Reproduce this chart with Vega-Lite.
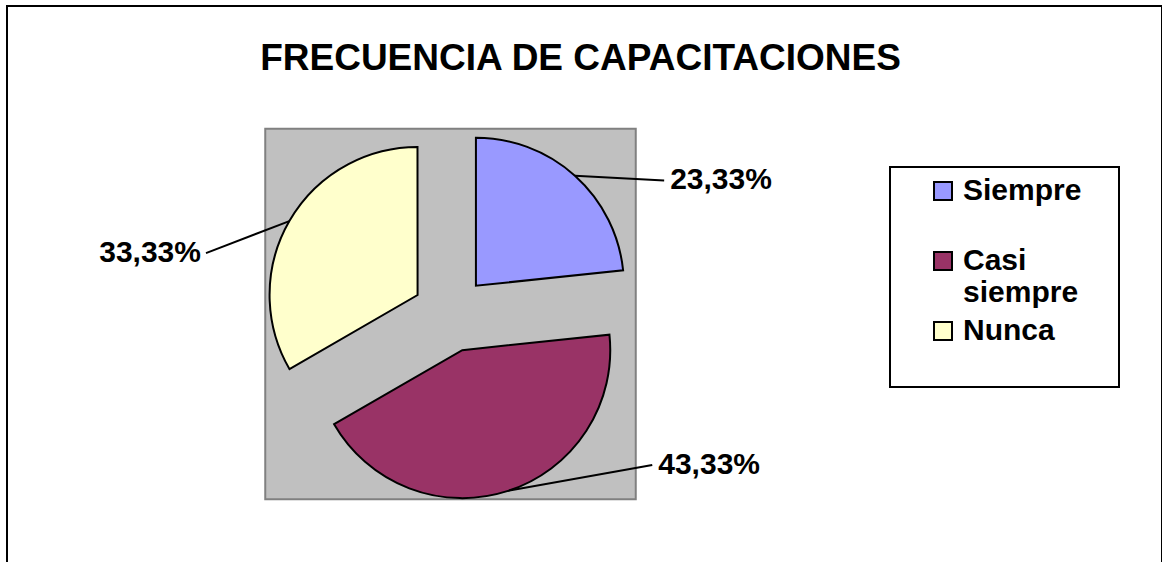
{
  "$schema": "https://vega.github.io/schema/vega-lite/v6.json",
  "width": 1155,
  "height": 560,
  "autosize": {"type": "none"},
  "padding": {"left": 7, "top": 6, "right": 0, "bottom": 0},
  "background": "white",
  "config": {
    "view": {"stroke": "black", "strokeWidth": 2, "fill": "white"},
    "font": "Liberation Sans",
    "legend": {"strokeWidth": 2}
  },
  "title": {
    "text": "FRECUENCIA DE CAPACITACIONES",
    "font": "Liberation Sans",
    "fontSize": 37,
    "fontWeight": "bold",
    "color": "black",
    "anchor": "middle",
    "frame": "group",
    "baseline": "alphabetic",
    "offset": 0,
    "dy": 101,
    "dx": -4
  },
  "data": {
    "values": [
      {"cat": "Siempre", "pct": 23.33},
      {"cat": "Casi siempre", "pct": 43.33},
      {"cat": "Nunca", "pct": 33.33}
    ]
  },
  "transform": [
    {"window": [{"op": "sum", "field": "pct", "as": "cum"}], "frame": [null, 0]},
    {"calculate": "datum.cum - datum.pct", "as": "start"},
    {"calculate": "(datum.cum - datum.pct / 2) * PI / 50", "as": "mid"},
    {"calculate": "sin(datum.mid) > 0 ? 1 : -1", "as": "side"},
    {"calculate": "38 * sin(datum.mid)", "as": "ox"},
    {"calculate": "38 * cos(datum.mid)", "as": "oy"},
    {"calculate": "186 * sin(datum.mid)", "as": "lx1"},
    {"calculate": "186 * cos(datum.mid)", "as": "ly1"},
    {"calculate": "asin(cos(datum.mid))", "as": "elev"},
    {"calculate": "datum.elev > 0 ? max(0, datum.elev - 0.279) : min(0, datum.elev + 0.279)", "as": "le"},
    {"calculate": "max(252 * sin(datum.le), -151)", "as": "ly2"},
    {"calculate": "datum.side * sqrt(63504 - datum.ly2 * datum.ly2)", "as": "lx2"},
    {"calculate": "replace(format(datum.pct, '.2f'), '.', ',') + '%'", "as": "label"}
  ],
  "layer": [
    {
      "data": {"values": [{"area": "plot"}]},
      "mark": {"type": "point", "shape": "square", "size": 137270, "filled": true, "fill": "#C0C0C0", "stroke": "#808080", "strokeWidth": 2, "opacity": 1},
      "encoding": {
        "x": {"datum": 0, "type": "quantitative", "scale": {"domain": [-443.5, 711.5], "nice": false, "zero": false}, "axis": null},
        "y": {"datum": 0, "type": "quantitative", "scale": {"domain": [-252, 308], "nice": false, "zero": false}, "axis": null}
      }
    },
    {
      "mark": {"type": "arc", "radius": 148, "stroke": "black", "strokeWidth": 2, "strokeJoin": "miter"},
      "encoding": {
        "theta": {"field": "start", "type": "quantitative", "stack": null, "scale": {"domain": [0, 100], "range": [0, 6.283185307]}},
        "theta2": {"field": "cum"},
        "x": {"field": "ox", "type": "quantitative", "axis": null},
        "y": {"field": "oy", "type": "quantitative", "axis": null},
        "color": {
          "field": "cat",
          "type": "nominal",
          "scale": {"domain": ["Siempre", "Casi siempre", "Nunca"], "range": ["#9999FF", "#993366", "#FFFFCC"]},
          "legend": {
            "orient": "none",
            "legendX": 883,
            "legendY": 161,
            "title": " ",
            "titleOrient": "right",
            "titleFontSize": 1,
            "titlePadding": 29,
            "strokeColor": "black",
            "padding": 9,
            "symbolType": "square",
            "symbolSize": 324,
            "symbolStrokeColor": "black",
            "symbolStrokeWidth": 2,
            "symbolOffset": 29,
            "labelFont": "Liberation Sans",
            "labelFontSize": 30,
            "labelFontWeight": "bold",
            "labelColor": "black",
            "labelOffset": 5,
            "labelLimit": 0,
            "labelLineHeight": 35,
            "rowPadding": 8,
            "labelExpr": "datum.label == 'Casi siempre' ? ['Casi', 'siempre'] : [datum.label, '']"
          }
        }
      }
    },
    {
      "mark": {"type": "rule", "color": "black", "strokeWidth": 2},
      "encoding": {
        "x": {"field": "lx1", "type": "quantitative"},
        "y": {"field": "ly1", "type": "quantitative"},
        "x2": {"field": "lx2"},
        "y2": {"field": "ly2"}
      }
    },
    {
      "transform": [{"filter": "datum.side > 0"}],
      "mark": {"type": "text", "align": "left", "baseline": "middle", "dx": 6, "font": "Liberation Sans", "fontSize": 30, "fontWeight": "bold", "color": "black"},
      "encoding": {
        "x": {"field": "lx2", "type": "quantitative"},
        "y": {"field": "ly2", "type": "quantitative"},
        "text": {"field": "label"}
      }
    },
    {
      "transform": [{"filter": "datum.side < 0"}],
      "mark": {"type": "text", "align": "right", "baseline": "middle", "dx": -5, "font": "Liberation Sans", "fontSize": 30, "fontWeight": "bold", "color": "black"},
      "encoding": {
        "x": {"field": "lx2", "type": "quantitative"},
        "y": {"field": "ly2", "type": "quantitative"},
        "text": {"field": "label"}
      }
    }
  ]
}
